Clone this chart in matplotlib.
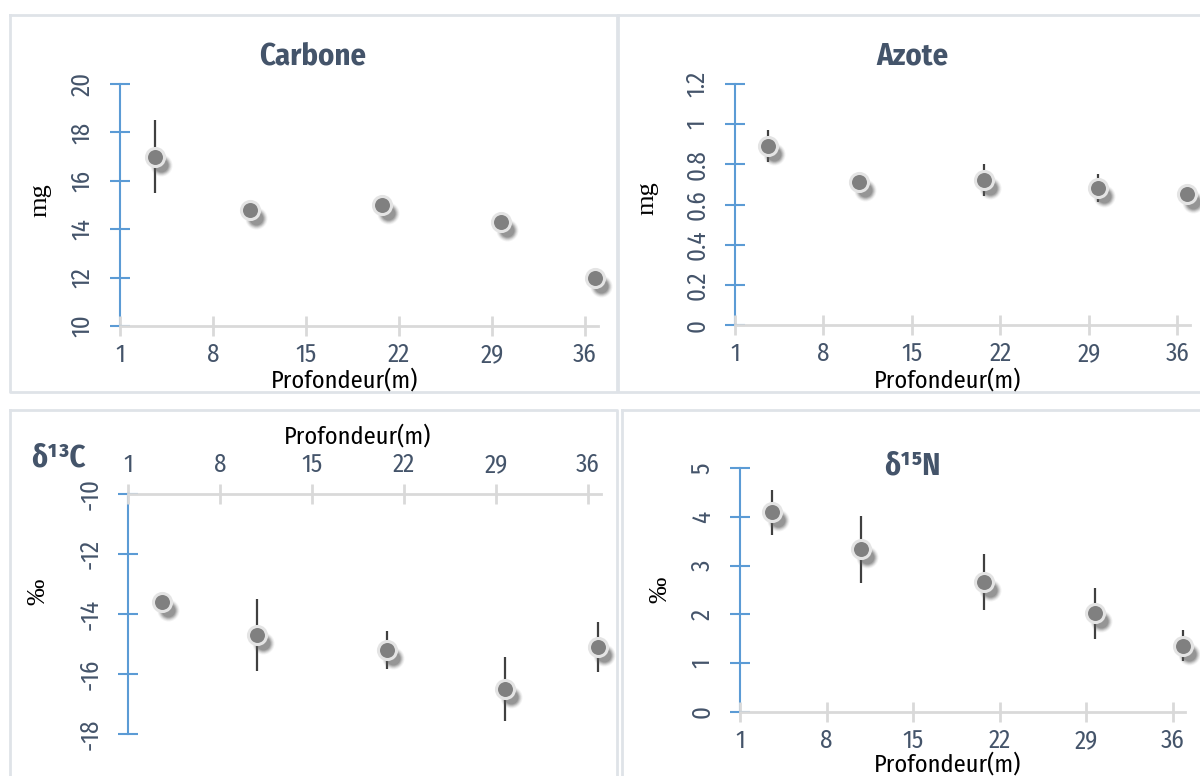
import numpy as np
import matplotlib.pyplot as plt
from matplotlib import transforms
from matplotlib.lines import Line2D

# depth of the samples (m) and the four measured variables with their errors
depth = [3.6, 10.8, 20.7, 29.7, 36.8]
carbone = [17.0, 14.8, 15.0, 14.3, 12.0]
carbone_err = [1.5, 0.2, 0.2, 0.2, 0.2]
azote = [0.89, 0.71, 0.72, 0.68, 0.65]
azote_err = [0.08, 0.02, 0.08, 0.07, 0.04]
d13c = [-13.6, -14.7, -15.2, -16.5, -15.1]
d13c_err = [0.2, 1.2, 0.62, 1.08, 0.82]
d15n = [4.09, 3.33, 2.67, 2.02, 1.36]
d15n_err = [0.46, 0.68, 0.57, 0.52, 0.32]
xticks = [1, 8, 15, 22, 29, 36]

W, H = 1200, 776
SANS = ['Fira Sans Condensed', 'DejaVu Sans']
SERIF = ['Liberation Serif', 'DejaVu Serif']
TXT = '#44546a'
BLUE = '#5b9bd5'
GRID = '#d9d9d9'


def rect(x0, y0, x1, y1):
    return [x0 / W, 1 - y1 / H, (x1 - x0) / W, (y1 - y0) / H]


def draw(ax, y, err, ylim, yticks, ylabels, top=False):
    fig = ax.figure
    ax.errorbar(depth, y, yerr=err, fmt='none', ecolor='#404040', elinewidth=1.6,
                zorder=2, clip_on=False)
    # soft shadow below the markers
    tr = transforms.offset_copy(ax.transData, fig=fig, x=6, y=-8, units='dots')
    for s, a in [(22, 0.07), (20, 0.12), (18, 0.18), (16, 0.25), (14, 0.3)]:
        ax.plot(depth, y, 'o', ms=s * 0.72, color='#5e5e5e', alpha=a, mew=0,
                transform=tr, zorder=3, clip_on=False)
    ax.plot(depth, y, 'o', ms=13, mfc='#808080', mec='#e4e4e4', mew=2.2, ls='none',
            zorder=4, clip_on=False)
    ax.set_xlim(1, 37)
    ax.set_ylim(*ylim)
    ax.set_xticks(xticks)
    ax.set_yticks(yticks)
    ax.set_yticklabels(ylabels)
    for s in ['right', 'bottom' if top else 'top']:
        ax.spines[s].set_visible(False)
    xs = 'top' if top else 'bottom'
    ax.spines[xs].set_color(GRID)
    ax.spines[xs].set_linewidth(2)
    ax.spines['left'].set_color(BLUE)
    ax.spines['left'].set_linewidth(1.5)
    ax.spines['left'].set_zorder(1)
    if top:
        ax.xaxis.tick_top()
    ax.tick_params(axis='x', color=GRID, direction='inout', length=14, width=2,
                   labelcolor=TXT, labelsize=18, pad=5)
    ax.tick_params(axis='y', color=BLUE, direction='inout', length=14, width=1.5,
                   labelcolor=TXT, labelsize=18, pad=11)
    for t in ax.get_xticklabels() + ax.get_yticklabels():
        t.set_family(SANS)
    for t in ax.get_yticklabels():
        t.set_rotation(90)
        t.set_va('center')
    ax.patch.set_alpha(0)


fig = plt.figure(figsize=(W / 100, H / 100), dpi=100)

# panel frames
for x0, y0, x1, y1 in [(10, 15, 617, 392), (618, 15, 1210, 392), (10, 410, 617, 790), (622, 410, 1210, 790)]:
    fig.add_artist(Line2D([x0 / W, x1 / W, x1 / W, x0 / W, x0 / W],
                          [1 - y0 / H, 1 - y0 / H, 1 - y1 / H, 1 - y1 / H, 1 - y0 / H],
                          color='#dfe3e8', lw=2))

ax1 = fig.add_axes(rect(120, 84, 598, 326))
draw(ax1, carbone, carbone_err, (10, 20), [10, 12, 14, 16, 18, 20], ['10', '12', '14', '16', '18', '20'])
ax2 = fig.add_axes(rect(735, 84, 1190, 325))
draw(ax2, azote, azote_err, (0, 1.2), [0, 0.2, 0.4, 0.6, 0.8, 1.0, 1.2],
     ['0', '0.2', '0.4', '0.6', '0.8', '1', '1.2'])
ax3 = fig.add_axes(rect(128, 494, 601, 734))
draw(ax3, d13c, d13c_err, (-18, -10), [-18, -16, -14, -12, -10], ['-18', '-16', '-14', '-12', '-10'], top=True)
ax4 = fig.add_axes(rect(740, 468, 1185, 712))
draw(ax4, d15n, d15n_err, (0, 5), [0, 1, 2, 3, 4, 5], ['0', '1', '2', '3', '4', '5'])


def ftext(x, y, s, **kw):
    fig.text(x / W, 1 - y / H, s, ha='center', va='center', **kw)


ftext(313, 56, 'Carbone', family=SANS, size=22, weight='bold', color=TXT)
ftext(912, 56, 'Azote', family=SANS, size=22, weight='bold', color=TXT)
ftext(58, 458, 'δ¹³C', family=SANS, size=22, weight='bold', color=TXT)
ftext(912, 466, 'δ¹⁵N', family=SANS, size=22, weight='bold', color=TXT)

ftext(345, 380, 'Profondeur(m)', family=SANS, size=17.5, color='black')
ftext(948, 380, 'Profondeur(m)', family=SANS, size=17.5, color='black')
ftext(358, 436, 'Profondeur(m)', family=SANS, size=17.5, color='black')
ftext(948, 764, 'Profondeur(m)', family=SANS, size=17.5, color='black')

ftext(40, 200, 'mg', family=SERIF, size=19, rotation=90, color='black')
ftext(647, 198, 'mg', family=SERIF, size=19, rotation=90, color='black')
ftext(38, 592, '‰', family=SERIF, size=19, rotation=90, color='black')
ftext(660, 590, '‰', family=SERIF, size=19, rotation=90, color='black')

fig.savefig('out.png', dpi=100)
